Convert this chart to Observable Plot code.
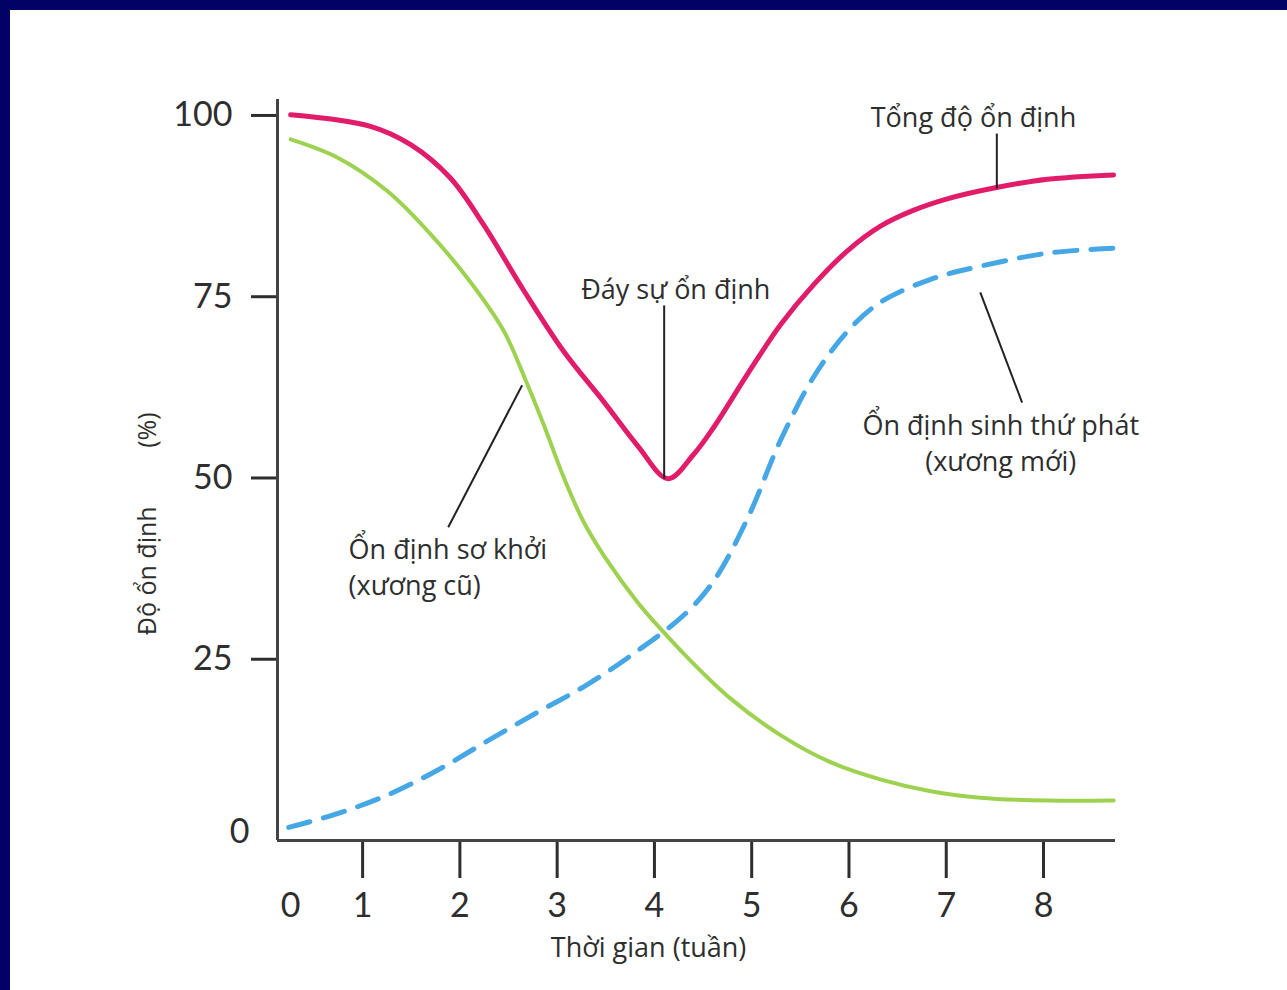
<!DOCTYPE html>
<html><head><meta charset="utf-8">
<script src="https://cdn.jsdelivr.net/npm/d3@7"></script>
<script src="https://cdn.jsdelivr.net/npm/@observablehq/plot@0.6"></script>
<style>
html,body{margin:0;padding:0;background:#020266;width:1287px;height:990px;overflow:hidden}
#frame{position:absolute;left:10px;top:10px;width:1277px;height:980px;background:#fff}
#chart svg{display:block}
</style></head><body><div id="frame"><div id="chart"></div></div>
<script>
// Axis extents and ticks
const X_MIN = 0.125, X_MAX = 8.74, Y_MAX = 102.2;
const xTicks = [1, 2, 3, 4, 5, 6, 7, 8];
const yTicks = [25, 50, 75, 100];

// Tổng độ ổn định (total stability)
const totalWeeks = [0.26, 1.08, 1.49, 1.90, 2.24, 2.65, 3.07, 3.48, 3.83, 4.14, 4.40, 4.61, 4.96, 5.30, 5.64, 5.99, 6.32, 6.66, 7.01, 7.53, 8.04, 8.72];
const totalStability = [100.1, 98.5, 96.0, 91.4, 85.0, 76.0, 67.4, 60.5, 54.4, 49.9, 53.2, 57.0, 64.4, 71.2, 76.7, 81.4, 84.7, 86.9, 88.5, 90.1, 91.2, 91.8];

// Ổn định sơ khởi (xương cũ) — primary stability
const primaryWeeks = [0.26, 0.74, 1.26, 1.70, 2.11, 2.45, 2.66, 2.86, 3.07, 3.27, 3.48, 3.83, 4.09, 4.32, 4.78, 5.30, 5.81, 6.33, 6.84, 7.35, 8.04, 8.72];
const primaryStability = [96.7, 94.2, 89.5, 83.6, 77.0, 70.3, 64.0, 57.4, 50.0, 44.0, 39.3, 32.8, 28.8, 25.5, 19.6, 14.5, 10.8, 8.4, 6.8, 5.9, 5.5, 5.5];

// Ổn định sinh thứ phát (xương mới) — secondary stability
const secondaryWeeks = [0.24, 0.74, 1.26, 1.77, 2.28, 2.80, 3.31, 3.83, 4.32, 4.61, 4.96, 5.30, 5.64, 5.99, 6.32, 6.84, 7.35, 8.04, 8.72];
const secondaryStability = [1.8, 3.7, 6.3, 9.7, 13.7, 17.7, 21.5, 26.2, 31.3, 35.8, 44.5, 55.3, 64.0, 70.3, 74.2, 77.4, 79.2, 81.0, 81.7];

// Annotations
const annotationLabels = ["Tổng độ ổn định", "Đáy sự ổn định", "Ổn định sơ khởi\n(xương cũ)", "Ổn định sinh thứ phát\n(xương mới)"];
const annotationX = [7.28, 4.22, 0.856, 7.56];
const annotationY = [99.9, 76.3, 37.9, 55.0];
const annotationAnchor = ["middle", "middle", "start", "middle"];
const pointerX1 = [7.52, 4.10, 1.88, 7.78];
const pointerY1 = [97.5, 73.8, 43.2, 60.4];
const pointerX2 = [7.52, 4.10, 2.64, 7.35];
const pointerY2 = [89.9, 49.9, 62.8, 75.6];

const xTitle = "Thời gian (tuần)";
const yTitle = "Độ ổn định";
const yUnit = "(%)";

const toTable = (xs, ys) => xs.map((x, i) => ({week: x, stability: ys[i]}));
const totalTable = toTable(totalWeeks, totalStability);
const primaryTable = toTable(primaryWeeks, primaryStability);
const secondaryTable = toTable(secondaryWeeks, secondaryStability);
const annotations = annotationLabels.map((t, i) => ({text: t, x: annotationX[i], y: annotationY[i], anchor: annotationAnchor[i]}));
const pointers = pointerX1.map((x, i) => ({x1: x, y1: pointerY1[i], x2: pointerX2[i], y2: pointerY2[i]}));

const ANN_FONT = "'Open Sans', 'Noto Sans', sans-serif";
const textColor = "#2e2e2e";

const chart = Plot.plot({
  width: 1277,
  height: 980,
  marginLeft: 267,
  marginRight: 172,
  marginTop: 89,
  marginBottom: 150,
  style: {fontFamily: "Lato, sans-serif", fontSize: "34px", color: textColor, background: "transparent", overflow: "visible"},
  x: {domain: [X_MIN, X_MAX]},
  y: {domain: [0, Y_MAX]},
  marks: [
    Plot.axisY({ticks: yTicks, tickSize: 26, tickPadding: 19, strokeWidth: 3, label: null, fontSize: 34}),
    Plot.axisX({ticks: xTicks, tickSize: 38, tickPadding: 14, strokeWidth: 3, label: null, fontSize: 34}),
    Plot.ruleX([X_MIN], {stroke: "#444", strokeWidth: 3}),
    Plot.ruleY([0], {stroke: "#444", strokeWidth: 3}),
    Plot.text(["0"], {x: X_MIN, y: 0, dx: -38, dy: -8, fontSize: 34, fill: textColor, textAnchor: "middle"}),
    Plot.text(["0"], {x: X_MIN, y: 0, dx: 13, dy: 66, fontSize: 34, fill: textColor, textAnchor: "middle"}),
    Plot.text([xTitle], {x: 3.94, y: 0, dy: 108, fontSize: 27, fontFamily: ANN_FONT, fill: textColor}),
    Plot.text([yTitle], {x: X_MIN, y: 37.2, dx: -130, rotate: -90, fontSize: 25, fontFamily: ANN_FONT, fill: textColor}),
    Plot.text([yUnit], {x: X_MIN, y: 56.6, dx: -130, rotate: -90, fontSize: 25, fontFamily: ANN_FONT, fill: textColor}),
    Plot.line(primaryTable, {x: "week", y: "stability", stroke: "#9dd250", strokeWidth: 4, curve: "catmull-rom"}),
    Plot.line(secondaryTable, {x: "week", y: "stability", stroke: "#46a7e6", strokeWidth: 5, strokeDasharray: "22,14", curve: "catmull-rom"}),
    Plot.line(totalTable, {x: "week", y: "stability", stroke: "#e11d6b", strokeWidth: 5, curve: "catmull-rom"}),
    Plot.link(pointers, {x1: "x1", y1: "y1", x2: "x2", y2: "y2", stroke: "#222", strokeWidth: 2}),
    Plot.text(annotations.filter(d => d.anchor === "start"), {x: "x", y: "y", text: "text", textAnchor: "start", lineHeight: 1.3, fontSize: 27, fontFamily: ANN_FONT, fill: textColor}),
    Plot.text(annotations.filter(d => d.anchor === "middle"), {x: "x", y: "y", text: "text", textAnchor: "middle", lineHeight: 1.3, fontSize: 27, fontFamily: ANN_FONT, fill: textColor})
  ]
});
document.getElementById("chart").appendChild(chart);
</script></body></html>
